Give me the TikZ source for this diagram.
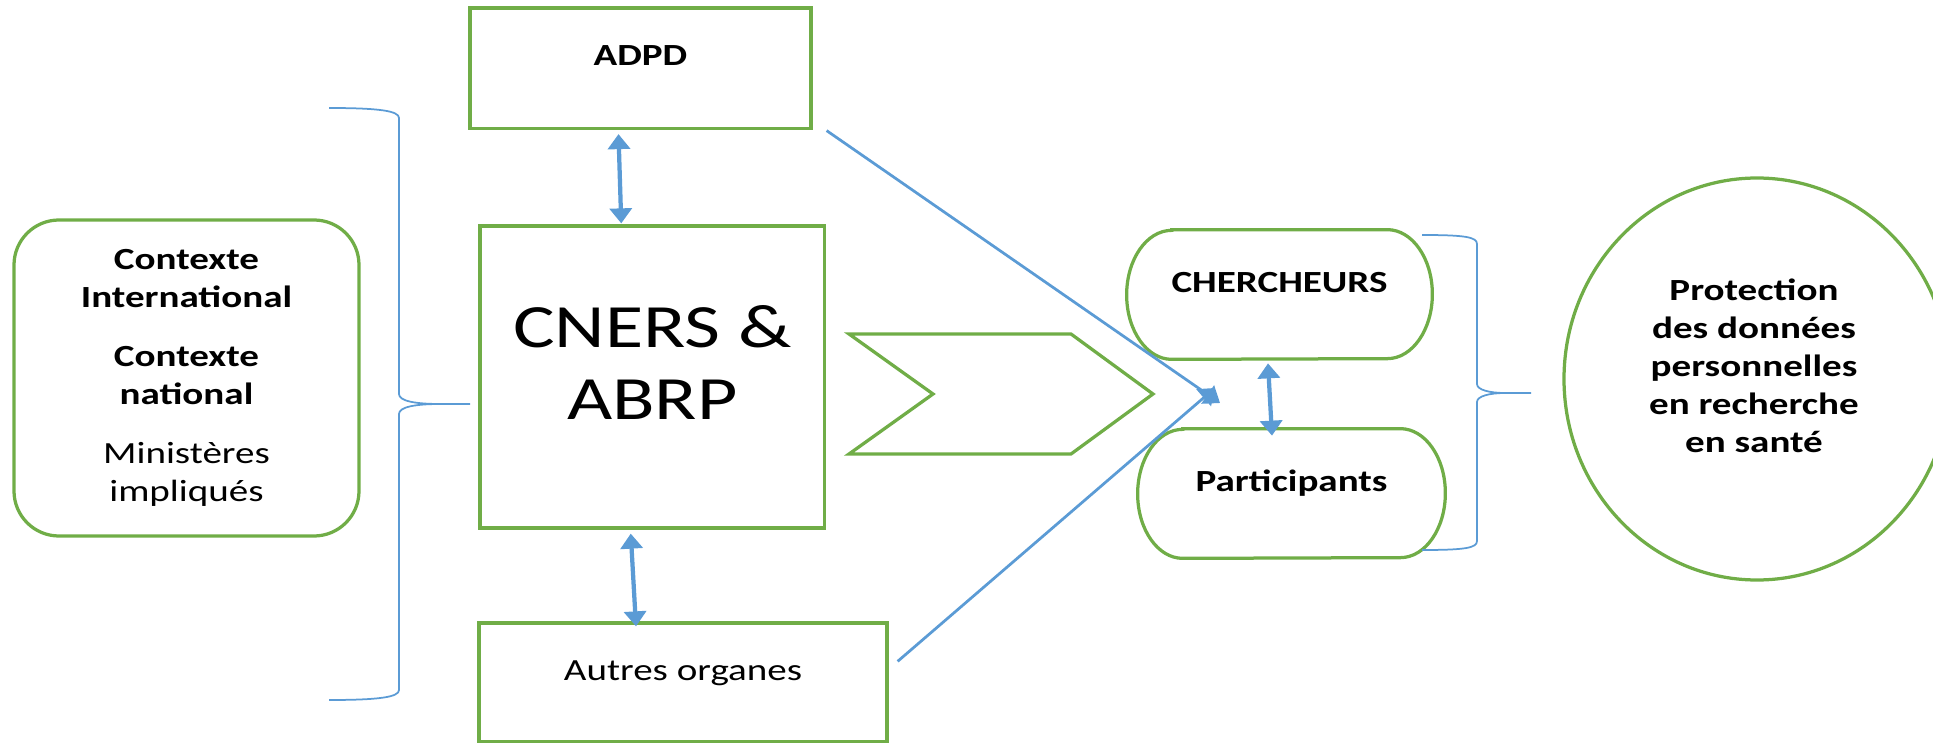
\documentclass[tikz,border=0pt]{standalone}
\usepackage{fontspec}
\setmainfont{Carlito}[FakeStretch=1.27]
\usetikzlibrary{arrows.meta,calc,positioning,shapes.geometric}
\definecolor{boxGreen}{HTML}{70AD47}
\definecolor{linkBlue}{HTML}{5B9BD5}
\tikzset{
  >={Triangle[length=3mm,width=4.4mm]},
  greenLine/.style={draw=boxGreen,line width=0.65mm,line join=miter},
  greenBox/.style={rectangle,greenLine,inner sep=0pt},
  blankBox/.style={rectangle,inner sep=0pt},
  braceLine/.style={draw=linkBlue,line width=0.35mm},
  link/.style={draw=linkBlue,line width=0.55mm,->},
  twoWay/.style={draw=linkBlue,line width=0.85mm,<->},
  boxText/.style={anchor=base,font=\fontsize{17.5}{21.6}\selectfont\bfseries},
  plainText/.style={anchor=base,font=\fontsize{17.5}{21.6}\selectfont},
}
% elliptic ends of the two actor boxes
\newcommand{\capsuleOutline}[1]{%
  \draw[greenLine] ([xshift=9mm]#1.north west) -- ([xshift=-9mm]#1.north east)
    arc[start angle=90,end angle=-90,x radius=9mm,y radius=12.9mm]
    -- ([xshift=9mm]#1.south west)
    arc[start angle=270,end angle=90,x radius=9mm,y radius=12.9mm] -- cycle;}

\begin{document}
\begin{tikzpicture}[x=0.2mm, y=-0.2mm]
\clip (0,0) rectangle (1933,743);

% ===== Context =====
\node[greenBox, rounded corners=9mm, minimum width=69mm, minimum height=63.2mm,
  align=center, font=\fontsize{17.5}{21.6}\selectfont]
  (contexteBox) at (186.5,378)
  {\textbf{Contexte}\\\textbf{International}\\[12pt]\textbf{Contexte}\\\textbf{national}\\[12pt]Ministères\\impliqués};
\draw[braceLine] (329,108) .. controls (380,108) and (399,111) .. (399,118) -- (399,394)
  .. controls (399,401) and (415,404) .. (440,404) -- (470,404) -- (440,404)
  .. controls (415,404) and (399,407) .. (399,414) -- (399,690)
  .. controls (399,697) and (380,700) .. (329,700);

% ===== Bodies =====
\node[greenBox, minimum width=68.2mm, minimum height=24.1mm] (adpdBox) at (640.5,68.25) {};
\node[boxText] (adpdLabel) at ($(adpdBox.north)+(0,59)$) {ADPD};

\node[greenBox, minimum width=68.9mm, minimum height=60.4mm] (cnersBox) at (652.25,377) {};
\node[align=center, font=\fontsize{35}{41.5}\selectfont] (cnersLabel)
  at ($(cnersBox.center)+(0,-14.5)$) {CNERS \&\\ABRP};

\node[greenBox, minimum width=81.6mm, minimum height=23.8mm] (autresBox) at (683,682.5) {};
\node[plainText] (autresLabel) at ($(autresBox.north)+(0,59)$) {Autres organes};

\draw[twoWay] ($(adpdBox.south)+(-22,4)$) -- ($(cnersBox.north)+(-31,-1)$);
\draw[twoWay] ($(cnersBox.south)+(-21.5,4)$) -- ($(autresBox.north)+(-47,5)$);

% ===== Chevron =====
\draw[greenLine] (849,334) -- (1071,334) -- (1153,394) -- (1071,454) -- (849,454) -- (933,394) -- cycle;

% ===== Actors =====
\node[blankBox, minimum width=61mm, minimum height=25.8mm] (chercheursBox) at (1279.5,294.5) {};
\capsuleOutline{chercheursBox}
\node[boxText] (chercheursLabel) at ($(chercheursBox.north)+(0,63)$) {CHERCHEURS};

\node[blankBox, minimum width=61.4mm, minimum height=25.8mm] (participantsBox) at (1291.5,493.5) {};
\capsuleOutline{participantsBox}
\node[boxText] (participantsLabel) at ($(participantsBox.north)+(0,63)$) {Participants};

\draw[twoWay] ($(chercheursBox.south)+(-11.5,4)$) -- ($(participantsBox.north)+(-19.5,7)$);

\coordinate (hubTop) at (1220,403);
\coordinate (hubBottom) at (1215,388);
\draw[link] ($(adpdBox.south east)+(14,0.5)$) -- (hubTop);
\draw[link] ($(autresBox.north east)+(9,40)$) -- (hubBottom);

\draw[braceLine] (1422,235) .. controls (1465,235) and (1477,237) .. (1477,244) -- (1477,384)
  .. controls (1477,390) and (1490,393) .. (1505,393) -- (1531,393) -- (1505,393)
  .. controls (1490,393) and (1477,396) .. (1477,402) -- (1477,541)
  .. controls (1477,548) and (1465,550) .. (1422,550);

% ===== Goal =====
\node[ellipse, greenLine, minimum width=77.2mm, minimum height=80.4mm, inner sep=0pt]
  (protectionEllipse) at (1757,379) {};
\node[align=center, font=\fontsize{17.5}{21.6}\selectfont\bfseries] (protectionLabel)
  at ($(protectionEllipse.center)+(-3,-13)$)
  {Protection\\des données\\personnelles\\en recherche\\en santé};

\end{tikzpicture}
\end{document}
